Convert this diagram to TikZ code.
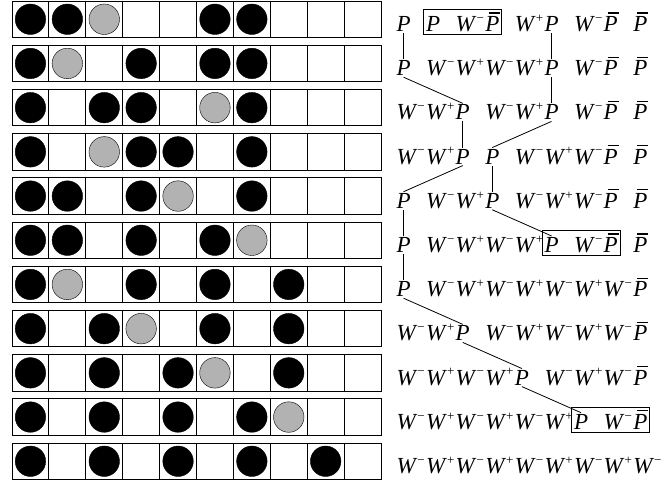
\documentclass[tikz,border=0pt]{standalone}
\usepackage{fontspec}
\setmainfont{Liberation Serif}
\usepackage{tikz}
\usetikzlibrary{positioning, fit}

\newcommand{\symP}{\textit{P}}
\newcommand{\symPbar}{\rlap{\hspace{4pt}\rule[18pt]{11pt}{1.1pt}}\textit{P}}
\newcommand{\symWm}{\textit{W}\raisebox{9.3pt}{\fontsize{13}{13}\selectfont −}}
\newcommand{\symWp}{\textit{W}\raisebox{9.3pt}{\fontsize{13}{13}\selectfont +}}

\begin{document}
\begin{tikzpicture}[
    x=1pt, y=-1pt,
    cell/.style={draw, line width=0.9pt},
    dot b/.style={circle, draw, fill=black, minimum size=30.5pt, inner sep=0pt},
    dot g/.style={circle, draw, fill=black!30, minimum size=30.5pt, inner sep=0pt},
    dot n/.style={inner sep=0pt},
    token/.style={inner sep=0pt, outer sep=1.5pt, anchor=base west, font=\fontsize{23}{26}\selectfont},
    frame/.style={draw, line width=0.8pt, inner xsep=1pt, inner ysep=1.5pt},
    link/.style={line width=0.8pt}
]
\useasboundingbox (0,0) rectangle (672,485);

% Lattice rows
\foreach \cells [count=\r] in {
    {b,b,g,n,n,b,b,n,n,n},
    {b,g,n,b,n,b,b,n,n,n},
    {b,n,b,b,n,g,b,n,n,n},
    {b,n,g,b,b,n,b,n,n,n},
    {b,b,n,b,g,n,b,n,n,n},
    {b,b,n,b,n,b,g,n,n,n},
    {b,g,n,b,n,b,n,b,n,n},
    {b,n,b,g,n,b,n,b,n,n},
    {b,n,b,n,b,g,n,b,n,n},
    {b,n,b,n,b,n,b,g,n,n},
    {b,n,b,n,b,n,b,n,b,n}}{
  \draw[cell] (12,{1+44.2*(\r-1)}) rectangle ++(369,36.5);
  \foreach \k in {1,...,9}
    \draw[cell] ({12+36.9*\k},{1+44.2*(\r-1)}) -- ++(0,36.5);
  \foreach \c [count=\k] in \cells
    \node[dot \c] (c\r-\k) at ({12+36.9*(\k-0.5)},{19.25+44.2*(\r-1)}) {};
}

% Words
\foreach \seq [count=\r] in {
    {\symP,\symP,\symWm,\symPbar,\symWp,\symP,\symWm,\symPbar,\symPbar},
    {\symP,\symWm,\symWp,\symWm,\symWp,\symP,\symWm,\symPbar,\symPbar},
    {\symWm,\symWp,\symP,\symWm,\symWp,\symP,\symWm,\symPbar,\symPbar},
    {\symWm,\symWp,\symP,\symP,\symWm,\symWp,\symWm,\symPbar,\symPbar},
    {\symP,\symWm,\symWp,\symP,\symWm,\symWp,\symWm,\symPbar,\symPbar},
    {\symP,\symWm,\symWp,\symWm,\symWp,\symP,\symWm,\symPbar,\symPbar},
    {\symP,\symWm,\symWp,\symWm,\symWp,\symWm,\symWp,\symWm,\symPbar},
    {\symWm,\symWp,\symP,\symWm,\symWp,\symWm,\symWp,\symWm,\symPbar},
    {\symWm,\symWp,\symWm,\symWp,\symP,\symWm,\symWp,\symWm,\symPbar},
    {\symWm,\symWp,\symWm,\symWp,\symWm,\symWp,\symP,\symWm,\symPbar},
    {\symWm,\symWp,\symWm,\symWp,\symWm,\symWp,\symWm,\symWp,\symWm}}{
  \foreach \tok [count=\k] in \seq
    \node[token] (t\r-\k) at ({395+29.6*(\k-1)},{31.5+44.2*(\r-1)}) {\tok};
}

% Boxes
\node[frame, fit=(t1-2)(t1-4)] (box1) {};
\node[frame, fit=(t6-6)(t6-8)] (box6) {};
\node[frame, fit=(t10-7)(t10-9)] (box10) {};

% Links
\draw[link] (t1-1.south) -- (t2-1.north);
\draw[link] (t1-6.south) -- (t2-6.north);
\draw[link] (t2-1.south) -- (t3-3.north);
\draw[link] (t2-6.south) -- (t3-6.north);
\draw[link] (t3-3.south) -- (t4-3.north);
\draw[link] (t3-6.south) -- (t4-4.north);
\draw[link] (t4-3.south) -- (t5-1.north);
\draw[link] (t4-4.south) -- (t5-4.north);
\draw[link] (t5-1.south) -- (t6-1.north);
\draw[link] (t5-4.south) -- (t6-6.north);
\draw[link] (t6-1.south) -- (t7-1.north);
\draw[link] (t7-1.south) -- (t8-3.north);
\draw[link] (t8-3.south) -- (t9-5.north);
\draw[link] (t9-5.south) -- (t10-7.north);

\end{tikzpicture}
\end{document}
